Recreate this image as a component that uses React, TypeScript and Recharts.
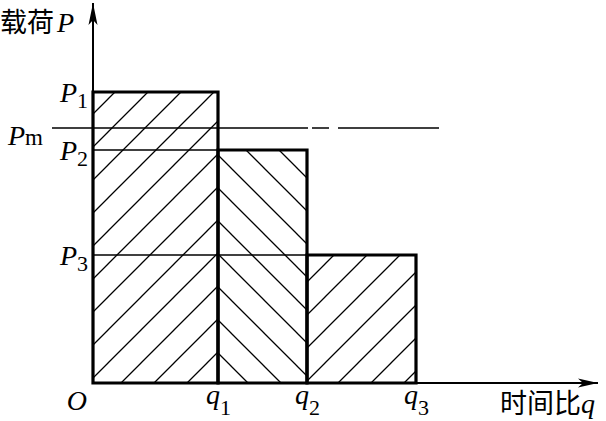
import React from 'react';
import { ComposedChart, XAxis, YAxis, ReferenceArea, ReferenceLine, ReferenceDot } from 'recharts';

// ---- data ----
const qBounds = [0, 1.25, 2.14, 3.23]; // O, q1, q2, q3 (time ratio)
const qSubs = ['', '1', '2', '3'];
const loads = [2.91, 2.33, 1.28]; // P1, P2, P3
const loadSubs = ['1', '2', '3'];
const meanLoad = 2.55; // Pm
const pmRange = [-0.41, 3.46];
const xMax = 5.05;
const yMax = 3.8;
const hatchIds = ['hatchA', 'hatchB', 'hatchC'];

const SERIF = '"Liberation Serif", "Times New Roman", serif';
const CJK = '"Noto Sans CJK SC", sans-serif';

const Patterns = () => (
  <svg width={0} height={0} style={{ position: 'absolute' }}>
    <defs>
      <pattern id="hatchA" patternUnits="userSpaceOnUse" width={33} height={33} x={9} y={0}>
        <path d="M-2,2 L2,-2 M0,33 L33,0 M31,35 L35,31" stroke="#000" strokeWidth={1.3} />
      </pattern>
      <pattern id="hatchB" patternUnits="userSpaceOnUse" width={33} height={33} x={0} y={3}>
        <path d="M-2,31 L2,35 M0,0 L33,33 M31,-2 L35,2" stroke="#000" strokeWidth={1.3} />
      </pattern>
      <pattern id="hatchC" patternUnits="userSpaceOnUse" width={33} height={33} x={28} y={0}>
        <path d="M-2,2 L2,-2 M0,33 L33,0 M31,35 L35,31" stroke="#000" strokeWidth={1.3} />
      </pattern>
    </defs>
  </svg>
);

const YTick = (props: any) => {
  const { x, y, payload } = props;
  const v = payload.value;
  if (v === meanLoad) {
    return (
      <text x={x - 50} y={y + 17} textAnchor="end" fontFamily={SERIF} fontSize={28} fill="#000">
        <tspan fontStyle="italic">P</tspan>
        <tspan fontSize={23}>m</tspan>
      </text>
    );
  }
  const i = loads.indexOf(v);
  return (
    <text x={x - 5} y={y + 10} textAnchor="end" fontFamily={SERIF} fontSize={28} fill="#000">
      <tspan fontStyle="italic">P</tspan>
      <tspan fontSize={22} dy={6}>{loadSubs[i]}</tspan>
    </text>
  );
};

const XTick = (props: any) => {
  const { x, y, payload } = props;
  const i = qBounds.indexOf(payload.value);
  if (i === 0) {
    return (
      <text x={x - 6} y={y + 27} textAnchor="end" fontFamily={SERIF} fontStyle="italic" fontSize={28} fill="#000">
        O
      </text>
    );
  }
  return (
    <text x={x - 12} y={y + 21} textAnchor="start" fontFamily={SERIF} fontSize={28} fill="#000">
      <tspan fontStyle="italic">q</tspan>
      <tspan fontSize={22} dy={11}>{qSubs[i]}</tspan>
    </text>
  );
};

const ArrowRight = (props: any) => {
  const { cx, cy } = props;
  return <path d={`M${cx},${cy} L${cx - 20},${cy - 4.5} L${cx - 15},${cy} L${cx - 20},${cy + 4.5} Z`} fill="#000" />;
};
const ArrowUp = (props: any) => {
  const { cx, cy } = props;
  return <path d={`M${cx},${cy} L${cx - 4.5},${cy + 22} L${cx},${cy + 17} L${cx + 4.5},${cy + 22} Z`} fill="#000" />;
};

export default function App() {
  return (
    <div style={{ position: 'absolute', left: 0, top: 0, width: 606, height: 421, background: '#fff' }}>
      <Patterns />
      <ComposedChart width={606} height={421} margin={{ top: 3, right: 8, bottom: 0, left: 0 }}>
        <XAxis
          type="number"
          dataKey="x"
          domain={[0, xMax]}
          allowDataOverflow
          ticks={qBounds}
          interval={0}
          tick={<XTick />}
          tickLine={false}
          tickSize={0}
          tickMargin={0}
          height={38}
          axisLine={{ stroke: '#000', strokeWidth: 2 }}
          label={{
            content: (p: any) => {
              const vb = p.viewBox;
              return (
                <text x={vb.x + vb.width - 98} y={vb.y + 30} fontSize={27} fill="#000">
                  <tspan fontFamily={CJK}>时间比</tspan>
                  <tspan fontFamily={SERIF} fontStyle="italic" fontSize={28}>q</tspan>
                </text>
              );
            },
          }}
        />
        <YAxis
          type="number"
          dataKey="y"
          domain={[0, yMax]}
          allowDataOverflow
          ticks={[loads[0], meanLoad, loads[1], loads[2]]}
          interval={0}
          tick={<YTick />}
          tickLine={false}
          tickSize={0}
          tickMargin={0}
          width={93}
          axisLine={{ stroke: '#000', strokeWidth: 2 }}
          label={{
            content: (p: any) => {
              const vb = p.viewBox;
              return (
                <text x={vb.x} y={vb.y + 29} fontSize={27} fill="#000">
                  <tspan fontFamily={CJK}>载荷</tspan>
                  <tspan fontFamily={SERIF} fontStyle="italic" fontSize={28} dx={3}>P</tspan>
                </text>
              );
            },
          }}
        />
        {loads.map((p, i) => (
          <ReferenceArea
            key={i}
            x1={qBounds[i]}
            x2={qBounds[i + 1]}
            y1={0}
            y2={p}
            fill={`url(#${hatchIds[i]})`}
            fillOpacity={1}
            stroke="#000"
            strokeWidth={3.2}
            ifOverflow="visible"
          />
        ))}
        <ReferenceLine
          segment={[{ x: 0, y: loads[1] }, { x: qBounds[1], y: loads[1] }]}
          stroke="#000"
          strokeWidth={1.6}
          ifOverflow="visible"
        />
        <ReferenceLine
          segment={[{ x: 0, y: loads[2] }, { x: qBounds[2], y: loads[2] }]}
          stroke="#000"
          strokeWidth={1.6}
          ifOverflow="visible"
        />
        <ReferenceLine
          segment={[{ x: pmRange[0], y: meanLoad }, { x: pmRange[1], y: meanLoad }]}
          stroke="#000"
          strokeWidth={1.6}
          strokeDasharray="256 4 17 9 400"
          ifOverflow="visible"
        />
        <ReferenceDot x={xMax} y={0} r={0} shape={<ArrowRight />} ifOverflow="visible" />
        <ReferenceDot x={0} y={yMax} r={0} shape={<ArrowUp />} ifOverflow="visible" />
      </ComposedChart>
    </div>
  );
}
